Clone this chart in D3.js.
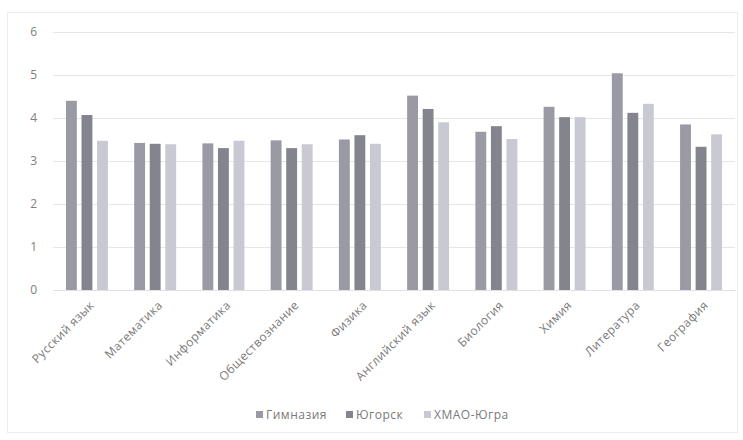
<!DOCTYPE html>
<html><head><meta charset="utf-8">
<script src="https://cdn.jsdelivr.net/npm/d3@7"></script>
<style>body{margin:0;background:#fff;}svg{display:block;}</style>
</head><body>
<svg id="c" width="743" height="440"></svg>
<script>
const categories = ["Русский язык","Математика","Информатика","Обществознание","Физика","Английский язык","Биология","Химия","Литература","География"];
const seriesNames = ["Гимназия","Югорск","ХМАО-Югра"];
const gymnasium = [4.40, 3.42, 3.41, 3.48, 3.50, 4.52, 3.68, 4.26, 5.04, 3.85];
const yugorsk   = [4.07, 3.40, 3.30, 3.30, 3.60, 4.21, 3.81, 4.02, 4.12, 3.33];
const khmao     = [3.47, 3.39, 3.47, 3.39, 3.40, 3.90, 3.51, 4.02, 4.33, 3.62];
const yTicks = [0,1,2,3,4,5,6];
const colors = ["#9a9aa4","#84848e","#c9c9d3"];

const series = [gymnasium, yugorsk, khmao];
const svg = d3.select("#c");
const m = {left:53, right:735, top:32, bottom:290};
const font = "'Open Sans', sans-serif";

// frame
svg.append("rect").attr("x",7.5).attr("y",12.5).attr("width",730).attr("height",420)
  .attr("fill","none").attr("stroke","#ececec");

const x = d3.scaleBand().domain(categories).range([m.left,m.right]).paddingInner(0.385).paddingOuter(0.19);
const x1 = d3.scaleBand().domain(d3.range(3)).range([0,x.bandwidth()]).paddingInner(0.3);
const y = d3.scaleLinear().domain([0,6]).range([m.bottom,m.top]);

const yAxis = svg.append("g").attr("transform",`translate(${m.left},0)`)
  .call(d3.axisLeft(y).tickValues(yTicks).tickFormat(d3.format("d")).tickSize(-(m.right-m.left)).tickPadding(16));
yAxis.select(".domain").remove();
yAxis.selectAll("line").attr("stroke","#e6e6e6");
yAxis.selectAll("text").attr("fill","#808080").style("font-family",font).style("font-size","12px");

const g = svg.append("g");
categories.forEach((c,i)=>{
  series.forEach((s,j)=>{
    g.append("rect").attr("x",x(c)+x1(j)).attr("width",x1.bandwidth())
      .attr("y",y(s[i])).attr("height",y(0)-y(s[i])).attr("fill",colors[j]);
  });
});

const xAxis = svg.append("g").attr("transform",`translate(0,${m.bottom})`)
  .call(d3.axisBottom(x).tickSize(0).tickPadding(0));
xAxis.select(".domain").attr("stroke","#e0e0e0");
xAxis.selectAll("text")
  .attr("fill","#7a7a7a").style("font-family",font).style("font-size","12px")
  .style("letter-spacing","0.4px")
  .attr("text-anchor","end")
  .attr("transform","translate(5,13) rotate(-45)")
  .attr("dy","0.35em");

// legend
const legend = svg.append("g").attr("transform","translate(0,415)");
const itemX = [256, 346, 424];
seriesNames.forEach((n,j)=>{
  legend.append("rect").attr("x",itemX[j]).attr("y",-4).attr("width",7).attr("height",7).attr("fill",colors[j]);
  legend.append("text").attr("x",itemX[j]+10).attr("y",0).attr("dy","0.35em")
    .attr("fill","#7a7a7a").style("font-family",font).style("font-size","12px")
    .style("letter-spacing","0.5px").text(n);
});
</script>
</body></html>
